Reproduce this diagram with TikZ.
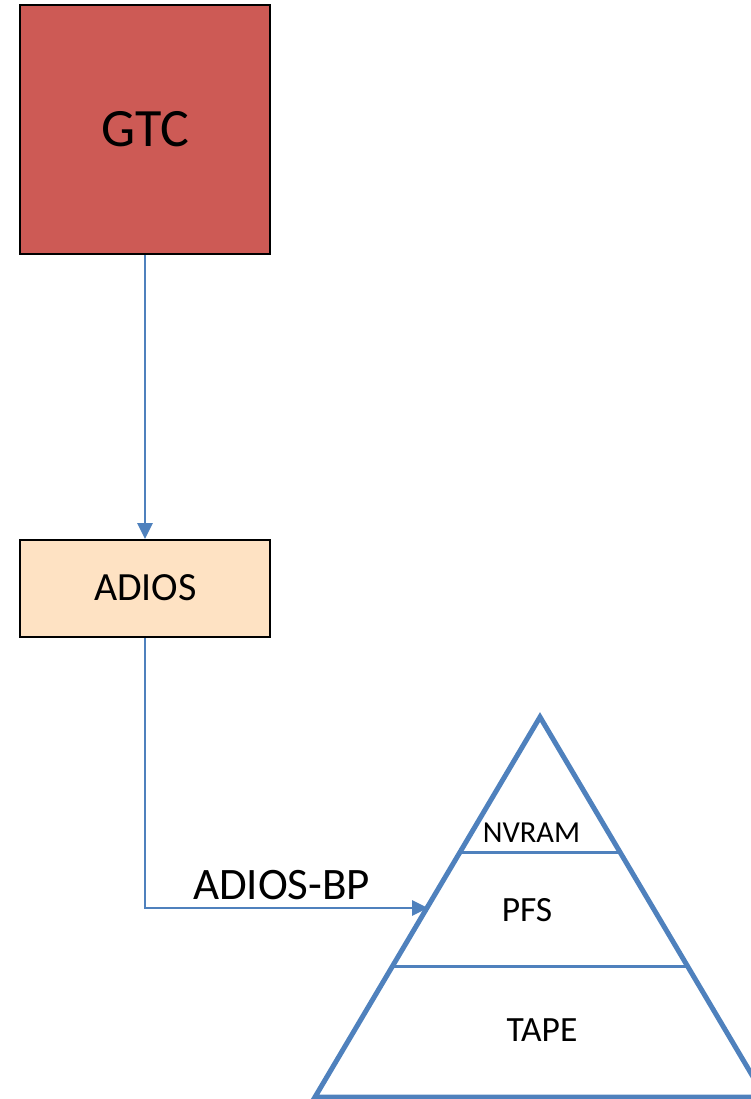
\documentclass[tikz,border=0pt]{standalone}
\usepackage{fontspec}
\setmainfont{Carlito}
\usetikzlibrary{arrows.meta}
\definecolor{gtcred}{RGB}{205,90,85}
\definecolor{adiospeach}{RGB}{254,226,195}
\definecolor{linkblue}{RGB}{79,129,189}
\tikzset{
  box/.style={draw=black, line width=2pt, minimum width=250pt, inner sep=0pt},
  link/.style={draw=linkblue, line width=2.8pt, -{Triangle[length=16pt,width=15pt]}},
  tier/.style={draw=linkblue, line width=5pt, line join=miter},
  tierline/.style={draw=linkblue, line width=3pt},
  lbl/.style={inner sep=0pt, anchor=base}
}
\begin{document}
\begin{tikzpicture}[x=1pt,y=-1pt]
  \useasboundingbox (0,0) rectangle (751,1099);

  % application and I/O layer boxes
  \node[box, fill=gtcred, minimum height=249pt] (gtc) at (145,129.5) {};
  \node[lbl] (gtclbl) at (145.5,147) {\fontsize{54}{64}\selectfont GTC};
  \node[box, fill=adiospeach, minimum height=97pt] (adios) at (145,588.5) {};
  \node[lbl] (adioslbl) at (145.5,600) {\fontsize{40}{48}\selectfont ADIOS};

  % storage pyramid
  \coordinate (apex) at (540,717);
  \coordinate (bl) at (315,1097);
  \coordinate (br) at (765,1097);
  \draw[tier] (apex) -- (bl) -- (br) -- cycle;
  \coordinate (nl) at (460,852);
  \coordinate (nr) at (620,852);
  \coordinate (pl) at (393,966);
  \coordinate (pr) at (687,966);
  \draw[tierline] (nl) -- (nr);
  \draw[tierline] (pl) -- (pr);
  \coordinate (entry) at (428,908);

  \node[lbl] (nvram) at (531.5,842) {\fontsize{30.5}{36}\selectfont NVRAM};
  \node[lbl] (pfs) at (527,921) {\fontsize{35.5}{42}\selectfont PFS};
  \node[lbl] (tape) at (542,1041) {\fontsize{35.5}{42}\selectfont TAPE};

  % data flow
  \draw[link] (gtc.south) -- (adios.north);
  \draw[link] (adios.south) |- (entry);
  \node[lbl] (bplbl) at (281.5,899) {\fontsize{45}{54}\selectfont ADIOS-BP};
\end{tikzpicture}
\end{document}
